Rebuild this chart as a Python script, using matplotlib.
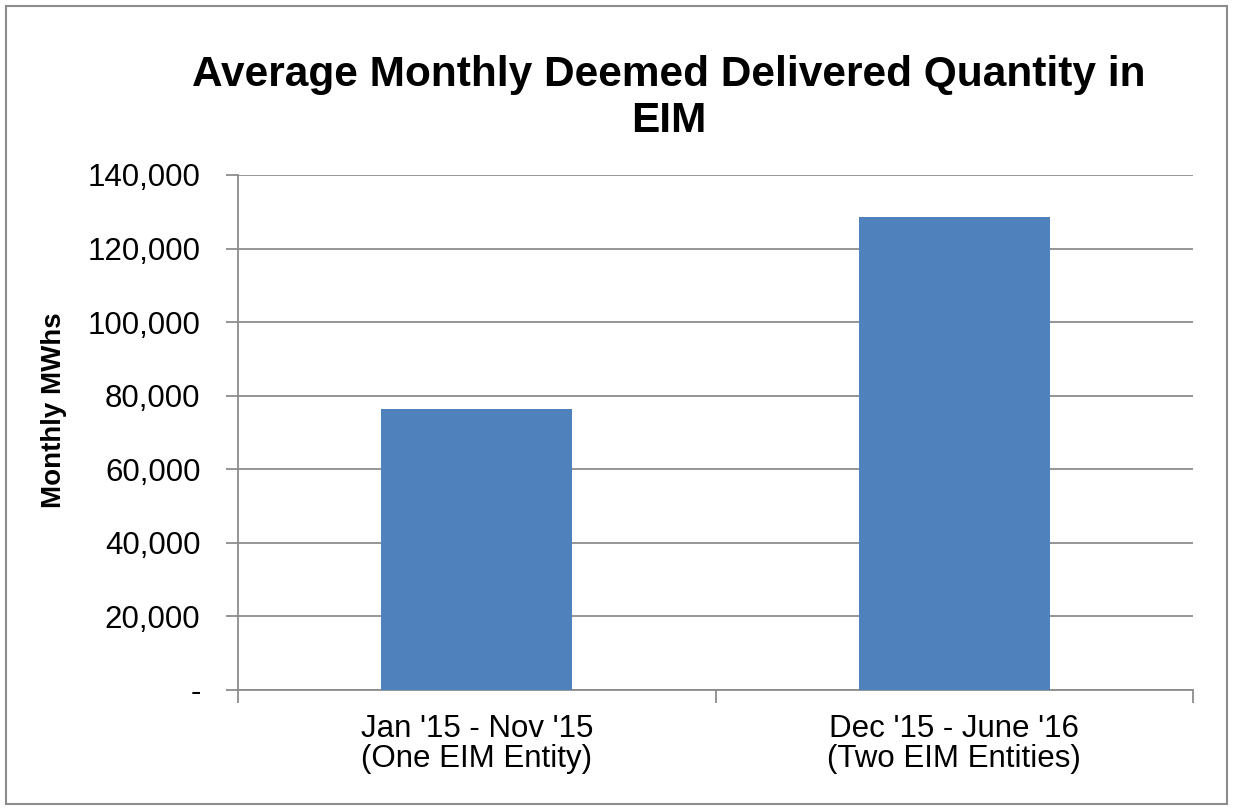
import matplotlib
matplotlib.use('Agg')
import matplotlib.pyplot as plt
from matplotlib.ticker import FuncFormatter

# data
categories = ["Jan '15 - Nov '15\n(One EIM Entity)", "Dec '15 - June '16\n(Two EIM Entities)"]
values = [76400, 128600]
yticks = [0, 20000, 40000, 60000, 80000, 100000, 120000, 140000]

plt.rcParams['font.family'] = ['Liberation Sans', 'DejaVu Sans']

fig = plt.figure(figsize=(12.33, 8.10), dpi=100)
ax = fig.add_axes([238/1233, 1 - 690/810, (1193-238)/1233, (690-175)/810])

x = range(len(categories))
ax.bar(x, values, width=0.4, color='#4f81bd', zorder=3)

ax.set_xlim(-0.5, 1.5)
ax.set_ylim(0, 140000)
ax.set_yticks(yticks)
ax.yaxis.set_major_formatter(FuncFormatter(lambda v, p: '-' if v == 0 else f'{v:,.0f}'))
ax.grid(axis='y', color='#8c8c8c', linewidth=1.3, zorder=0)

ax.set_xticks(list(x))
ax.set_xticklabels(categories, fontsize=22.5, linespacing=1.02)
ax.set_xticks([-0.5, 0.5, 1.5], minor=True)
ax.tick_params(axis='x', which='major', length=0, pad=17)
ax.tick_params(axis='x', which='minor', length=9, width=1.3, color='#8c8c8c')
ax.tick_params(axis='y', length=9, width=1.3, color='#8c8c8c', labelsize=22.5, pad=18)

for s in ['top', 'right']:
    ax.spines[s].set_visible(False)
for s in ['left', 'bottom']:
    ax.spines[s].set_color('#8c8c8c')
    ax.spines[s].set_linewidth(1.3)

fig.text(54/1233, 1 - 410/810, 'Monthly MWhs', rotation=90, ha='center', va='center',
         fontsize=20, fontweight='bold')

fig.text(0.5 * (190 + 1148) / 1233, 1 - 98/810,
         'Average Monthly Deemed Delivered Quantity in\nEIM',
         ha='center', va='center', fontsize=30.5, fontweight='bold', linespacing=1.2)

# outer border
fig.patches.append(plt.Rectangle((6/1233, 6/810), 1 - 12/1233, 1 - 12/810,
                                 transform=fig.transFigure, fill=False,
                                 edgecolor='#8c8c8c', linewidth=1.5))

fig.savefig('out.png', dpi=100)
